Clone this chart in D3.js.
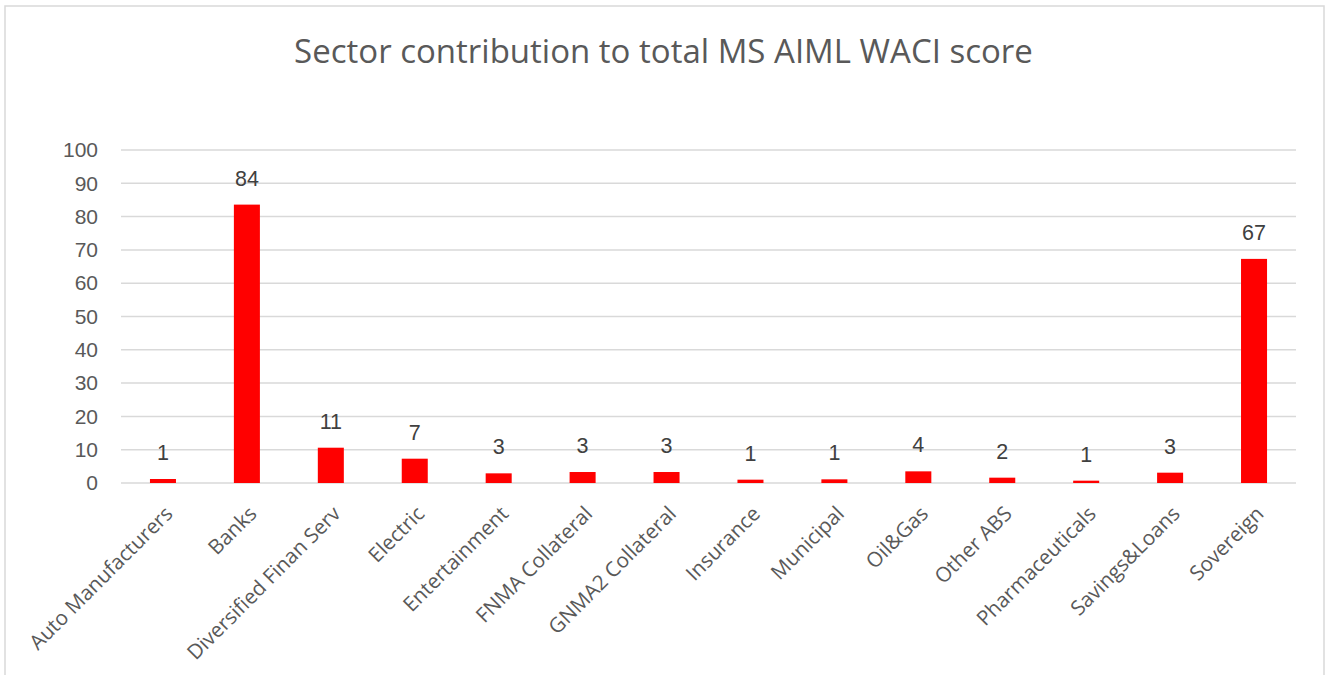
<!DOCTYPE html>
<html>
<head>
<meta charset="utf-8">
<script src="https://cdn.jsdelivr.net/npm/d3@7"></script>
<style>
  body { margin: 0; background: #fff; }
  svg { display: block; }
</style>
</head>
<body>
<svg width="1327" height="675"></svg>
<script>
var sectors = ["Auto Manufacturers", "Banks", "Diversified Finan Serv", "Electric", "Entertainment",
    "FNMA Collateral", "GNMA2 Collateral", "Insurance", "Municipal", "Oil&Gas", "Other ABS",
    "Pharmaceuticals", "Savings&Loans", "Sovereign"];
var scores = [1.2, 83.6, 10.6, 7.3, 2.9, 3.3, 3.3, 1.0, 1.1, 3.5, 1.6, 0.7, 3.1, 67.3];
var yTicks = [0, 10, 20, 30, 40, 50, 60, 70, 80, 90, 100];

var svg = d3.select("svg"),
    width = +svg.attr("width"),
    height = +svg.attr("height");

var margin = {left: 121, right: 31, top: 150, bottom: 192};

// chart frame
svg.append("rect")
    .attr("x", 5).attr("y", 6)
    .attr("width", 1319).attr("height", 680)
    .attr("fill", "#fff")
    .attr("stroke", "#d9d9d9")
    .attr("stroke-width", 1.5);

var x = d3.scaleBand()
    .domain(sectors)
    .range([margin.left, width - margin.right])
    .padding(0);

var y = d3.scaleLinear()
    .domain([0, 100])
    .range([height - margin.bottom, margin.top]);

var barW = x.bandwidth() * 0.31;

// title
svg.append("text")
    .attr("x", width / 2)
    .attr("y", 63)
    .attr("text-anchor", "middle")
    .style("font-family", "'Open Sans', sans-serif")
    .style("font-size", "33px")
    .attr("fill", "#595959")
    .text("Sector contribution to total MS AIML WACI score");

// gridlines
svg.append("g")
    .selectAll("line")
    .data(yTicks)
    .enter()
    .append("line")
    .attr("x1", margin.left)
    .attr("x2", width - margin.right)
    .attr("y1", function (d) {return y(d);})
    .attr("y2", function (d) {return y(d);})
    .attr("stroke", "#d9d9d9")
    .attr("stroke-width", 1.5);

// y axis labels
var yAxis = d3.axisLeft(y).tickValues(yTicks).tickSize(0).tickPadding(23);
var yg = svg.append("g")
    .attr("transform", "translate(" + margin.left + ",0)")
    .call(yAxis);
yg.select(".domain").remove();
yg.selectAll("text")
    .style("font-family", "'Liberation Sans', Arial, sans-serif")
    .style("font-size", "21px")
    .attr("fill", "#595959");

// bars
svg.append("g")
    .selectAll("rect")
    .data(scores)
    .enter()
    .append("rect")
    .attr("x", function (d, i) {return x(sectors[i]) + x.bandwidth() / 2 - barW / 2;})
    .attr("y", function (d) {return y(d);})
    .attr("width", barW)
    .attr("height", function (d) {return y(0) - y(d);})
    .attr("fill", "#ff0000");

// data labels
svg.append("g")
    .selectAll("text")
    .data(scores)
    .enter()
    .append("text")
    .attr("x", function (d, i) {return x(sectors[i]) + x.bandwidth() / 2;})
    .attr("y", function (d) {return y(d) - 19;})
    .attr("text-anchor", "middle")
    .style("font-family", "'Liberation Sans', Arial, sans-serif")
    .style("font-size", "21.5px")
    .attr("fill", "#404040")
    .text(function (d) {return Math.round(d);});

// x axis labels
var xAxis = d3.axisBottom(x).tickSize(0).tickPadding(0);
var xg = svg.append("g")
    .attr("transform", "translate(0," + y(0) + ")")
    .call(xAxis);
xg.select(".domain").remove();
xg.selectAll("text")
    .attr("text-anchor", "end")
    .attr("dy", 0)
    .attr("y", 0)
    .attr("transform", "translate(11,32) rotate(-45)")
    .style("font-family", "'Open Sans', sans-serif")
    .style("font-size", "20.6px")
    .attr("fill", "#595959");
</script>
</body>
</html>
